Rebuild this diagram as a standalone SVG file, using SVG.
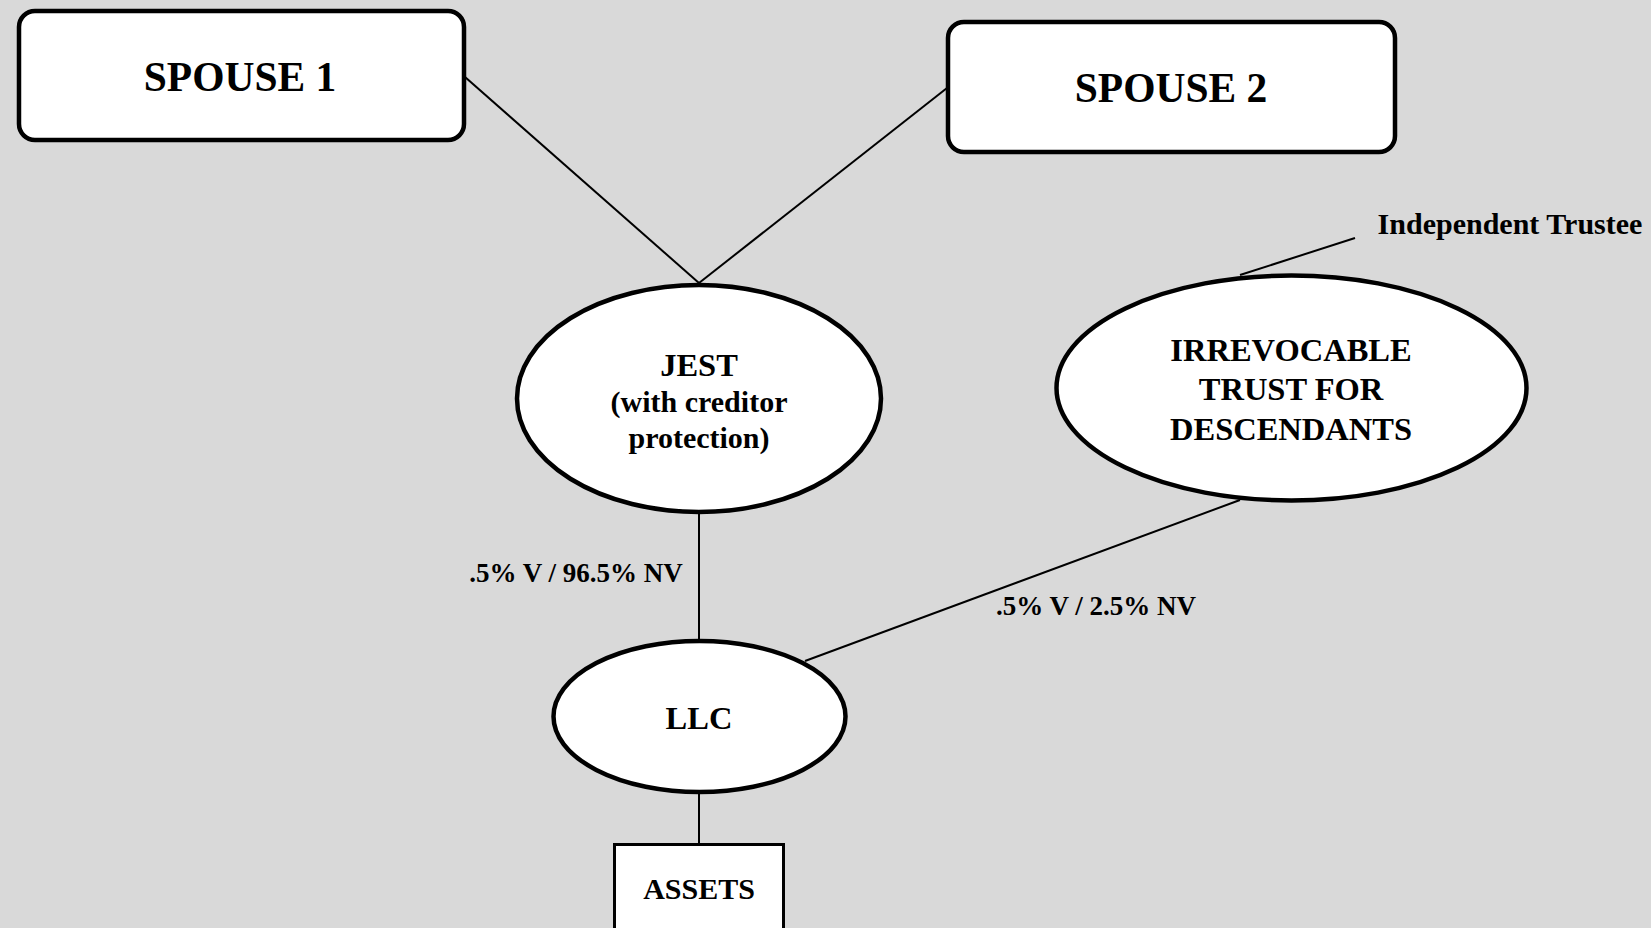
<svg xmlns="http://www.w3.org/2000/svg" width="1651" height="928" viewBox="0 0 1651 928">
  <style>
    .box { fill: #ffffff; stroke: #000000; stroke-width: 4.5; }
    .oval { fill: #ffffff; stroke: #000000; stroke-width: 4.5; }
    .plain { fill: #ffffff; stroke: #000000; stroke-width: 3; }
    .link { stroke: #000000; stroke-width: 2; fill: none; }
    text { font-family: "Liberation Serif", "Times New Roman", serif; font-weight: bold; fill: #000000; text-anchor: middle; }
    .big { font-size: 41.5px; }
    .mid { font-size: 32.5px; }
    .sub { font-size: 30px; }
    .tag { font-size: 27px; }
  </style>
  <rect x="0" y="0" width="1651" height="928" fill="#d9d9d9"/>

  <g id="connectors">
    <line class="link" x1="465" y1="77" x2="699" y2="283"/>
    <line class="link" x1="947" y1="88" x2="699" y2="283"/>
    <line class="link" x1="1355" y1="238" x2="1240" y2="275"/>
    <line class="link" x1="699" y1="513" x2="699" y2="640"/>
    <line class="link" x1="1240" y1="500" x2="805" y2="661"/>
    <line class="link" x1="699" y1="792" x2="699" y2="844"/>
  </g>

  <g id="spouse1">
    <rect class="box" x="19" y="11" width="445" height="129" rx="16"/>
    <text class="big" x="240" y="91">SPOUSE 1</text>
  </g>

  <g id="spouse2">
    <rect class="box" x="948" y="22" width="447" height="130" rx="16"/>
    <text class="big" x="1171" y="102">SPOUSE 2</text>
  </g>

  <g id="trustee-label">
    <text class="sub" x="1510" y="234">Independent Trustee</text>
  </g>

  <g id="jest">
    <ellipse class="oval" cx="699" cy="398.5" rx="182" ry="113.5"/>
    <text class="mid" x="699" y="376">JEST</text>
    <text class="sub" x="699" y="412">(with creditor</text>
    <text class="sub" x="699" y="448">protection)</text>
  </g>

  <g id="irrevocable-trust">
    <ellipse class="oval" cx="1291.5" cy="388" rx="235" ry="112.5"/>
    <text class="mid" x="1291" y="361">IRREVOCABLE</text>
    <text class="mid" x="1291" y="400">TRUST FOR</text>
    <text class="mid" x="1291" y="440">DESCENDANTS</text>
  </g>

  <g id="llc">
    <ellipse class="oval" cx="699.5" cy="716.5" rx="146" ry="75.5"/>
    <text class="mid" x="699" y="729">LLC</text>
  </g>

  <g id="assets">
    <rect class="plain" x="614.5" y="844.5" width="169" height="100"/>
    <text class="sub" x="699" y="899">ASSETS</text>
  </g>

  <g id="share-labels">
    <text class="tag" x="576" y="582">.5% V / 96.5% NV</text>
    <text class="tag" x="1096" y="615">.5% V / 2.5% NV</text>
  </g>
</svg>
